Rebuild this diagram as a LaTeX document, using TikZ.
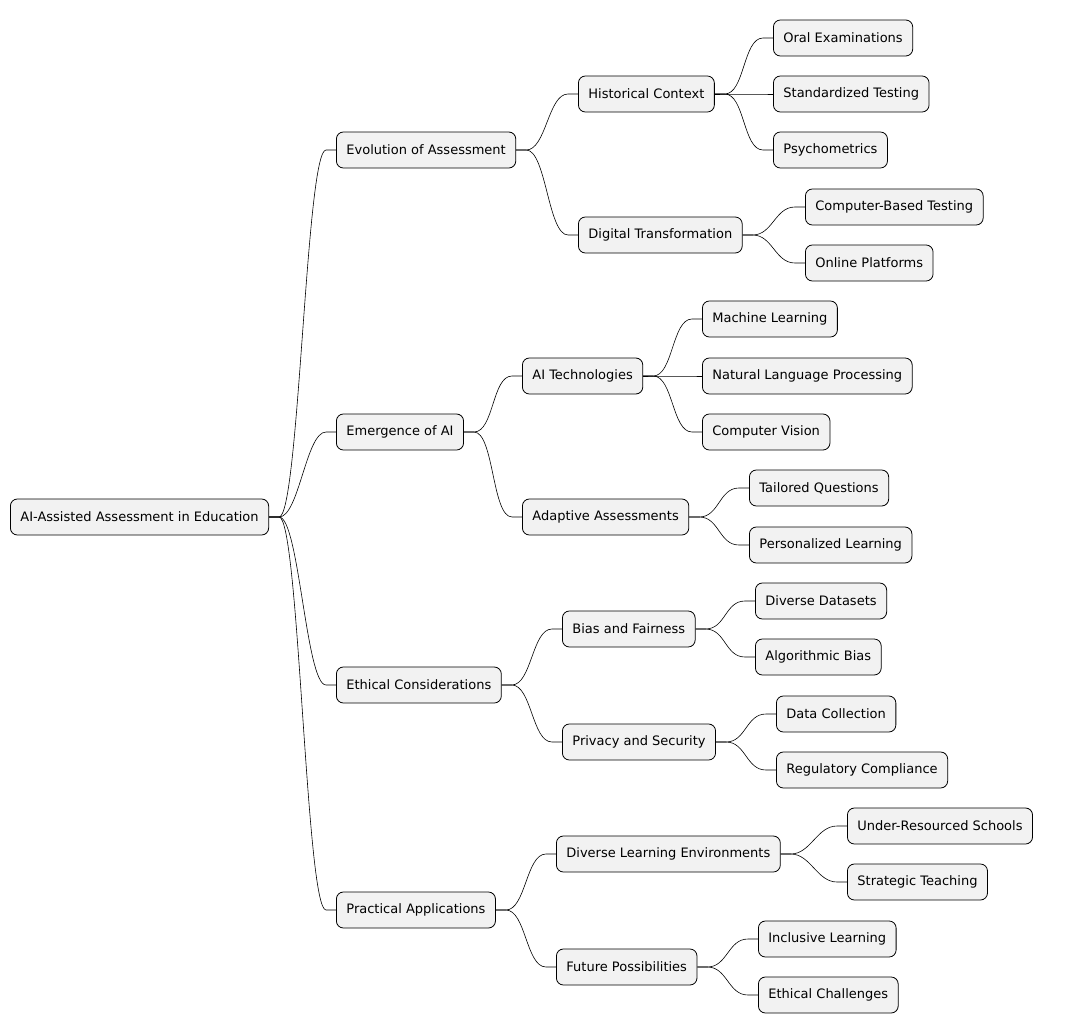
\documentclass[tikz,border=0pt]{standalone}
\usepackage{fontspec}
\setmainfont{DejaVu Sans}
\tikzset{
  topic/.style={draw=black,fill=gray!10,rounded corners=7pt,anchor=west,
    minimum height=36pt,inner xsep=10pt,font=\fontsize{13}{15}\selectfont,line width=0.8pt},
  branch/.style={line width=0.6pt}
}
\begin{document}
\begin{tikzpicture}[x=1pt,y=-1pt]
\useasboundingbox (0,0) rectangle (1066,1033);
% root and first level
\node[topic] (root) at (10,517) {AI-Assisted Assessment in Education};
\node[topic] (evo) at (336,150) {Evolution of Assessment};
\node[topic] (emer) at (336,432) {Emergence of AI};
\node[topic] (eth) at (336,685) {Ethical Considerations};
\node[topic] (prac) at (336,910) {Practical Applications};
% second level
\node[topic] (hist) at (578,94) {Historical Context};
\node[topic] (digi) at (578,235) {Digital Transformation};
\node[topic] (aitech) at (522,376) {AI Technologies};
\node[topic] (adapt) at (522,517) {Adaptive Assessments};
\node[topic] (bias) at (562,629) {Bias and Fairness};
\node[topic] (priv) at (562,742) {Privacy and Security};
\node[topic] (divle) at (556,854) {Diverse Learning Environments};
\node[topic] (fut) at (556,967) {Future Possibilities};
% leaves
\node[topic] (oral) at (773,38) {Oral Examinations};
\node[topic] (std) at (773,94) {Standardized Testing};
\node[topic] (psy) at (773,150) {Psychometrics};
\node[topic] (cbt) at (805,207) {Computer-Based Testing};
\node[topic] (onl) at (805,263) {Online Platforms};
\node[topic] (ml) at (702,319) {Machine Learning};
\node[topic] (nlp) at (702,376) {Natural Language Processing};
\node[topic] (cv) at (702,432) {Computer Vision};
\node[topic] (tail) at (749,488) {Tailored Questions};
\node[topic] (pers) at (749,545) {Personalized Learning};
\node[topic] (divd) at (755,601) {Diverse Datasets};
\node[topic] (algo) at (755,657) {Algorithmic Bias};
\node[topic] (data) at (776,714) {Data Collection};
\node[topic] (reg) at (776,770) {Regulatory Compliance};
\node[topic] (under) at (847,826) {Under-Resourced Schools};
\node[topic] (strat) at (847,882) {Strategic Teaching};
\node[topic] (incl) at (758,939) {Inclusive Learning};
\node[topic] (ethc) at (758,995) {Ethical Challenges};
% connectors
\foreach \p/\c in {root/evo,root/emer,root/eth,root/prac,
    evo/hist,evo/digi,emer/aitech,emer/adapt,eth/bias,eth/priv,prac/divle,prac/fut,
    hist/oral,hist/std,hist/psy,digi/cbt,digi/onl,aitech/ml,aitech/nlp,aitech/cv,
    adapt/tail,adapt/pers,bias/divd,bias/algo,priv/data,priv/reg,
    divle/under,divle/strat,fut/incl,fut/ethc}
  \draw[branch] (\p.east) -- +(10,0) .. controls +(20,0) and +(-20,0) .. ([xshift=-10pt]\c.west) -- (\c.west);
\end{tikzpicture}
\end{document}
